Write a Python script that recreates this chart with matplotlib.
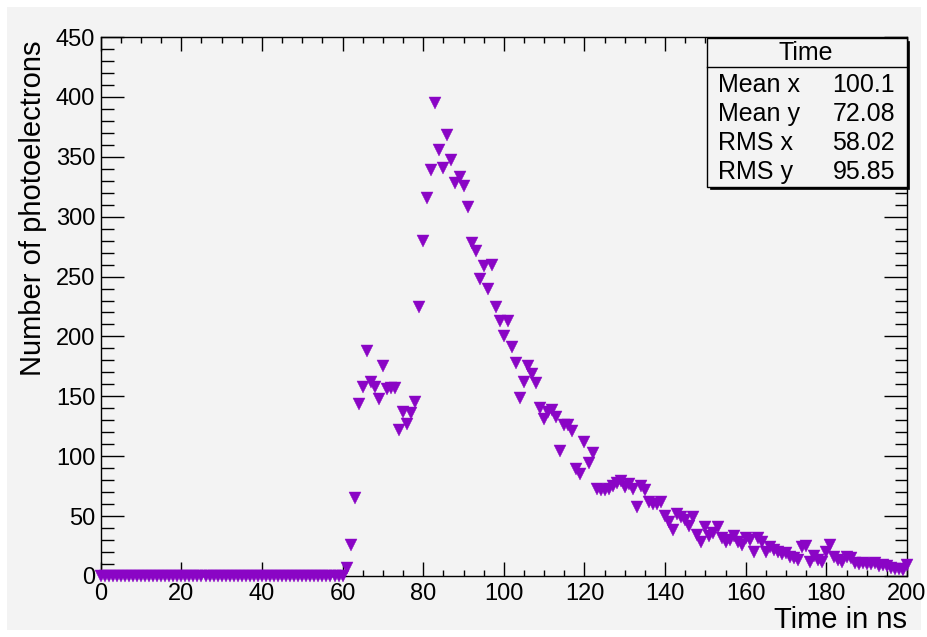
import matplotlib
matplotlib.use("Agg")
import matplotlib.pyplot as plt
from matplotlib.patches import Rectangle
from matplotlib.lines import Line2D
from matplotlib.ticker import MultipleLocator
import numpy as np

# time bins (ns) and photoelectron counts per bin
time_ns = np.arange(0, 201)
counts = [0] * 61 + [
    7, 26, 65, 144, 158, 188, 162, 158, 148, 175,            # 61-70
    156, 157, 157, 122, 137, 127, 136, 145, 225, 280,        # 71-80
    316, 339, 395, 356, 341, 368, 347, 328, 333, 326,        # 81-90
    308, 278, 271, 248, 259, 240, 260, 225, 213, 200,        # 91-100
    213, 191, 178, 149, 162, 175, 169, 161, 140, 131,        # 101-110
    137, 139, 133, 104, 126, 126, 121, 89, 85, 112,          # 111-120
    94, 103, 73, 72, 72, 73, 75, 78, 79, 74,                 # 121-130
    77, 73, 58, 75, 72, 62, 60, 60, 62, 50,                  # 131-140
    45, 38, 52, 49, 47, 42, 49, 34, 28, 41,                  # 141-150
    33, 36, 41, 32, 28, 30, 33, 28, 26, 32,                  # 151-160
    30, 20, 32, 28, 20, 24, 22, 20, 18, 19,                  # 161-170
    16, 15, 13, 24, 25, 12, 17, 13, 12, 20,                  # 171-180
    26, 16, 13, 12, 16, 15, 11, 10, 11, 10,                  # 181-190
    10, 11, 8, 9, 8, 7, 6, 6, 5, 9,                          # 191-200
]

stats_title = "Time"
stats_names = ["Mean x", "Mean y", "RMS x", "RMS y"]
stats_values = ["100.1", "72.08", "58.02", "95.85"]

W, H = 928, 637
bg = "#f3f3f3"
purple = "#8a05c5"
plt.rcParams['font.family'] = ['Liberation Sans', 'DejaVu Sans']

fig = plt.figure(figsize=(W / 100, H / 100), dpi=100, facecolor="white")


def fx(px):
    return px / W


def fy(py):
    return 1 - py / H


# grey canvas inside a thin white margin
fig.patches.append(Rectangle((fx(7), fy(630)), fx(921) - fx(7), fy(7) - fy(630),
                             transform=fig.transFigure, facecolor=bg,
                             edgecolor="none", zorder=-10))

ax = fig.add_axes([fx(100.7), fy(576), fx(907) - fx(100.7), fy(37) - fy(576)])
ax.set_facecolor(bg)
ax.plot(time_ns, counts, linestyle="none", marker="v", markersize=8.6,
        color=purple, markeredgewidth=0.3, clip_on=False, zorder=5)

ax.set_xlim(0, 200)
ax.set_ylim(0, 450)
ax.xaxis.set_major_locator(MultipleLocator(20))
ax.xaxis.set_minor_locator(MultipleLocator(5))
ax.yaxis.set_major_locator(MultipleLocator(50))
ax.yaxis.set_minor_locator(MultipleLocator(10))
ax.tick_params(which="both", direction="in", top=True, right=True,
               labelsize=17, width=1.0, colors="black")
ax.tick_params(axis="x", which="major", length=10, pad=5)
ax.tick_params(axis="x", which="minor", length=4.5)
ax.tick_params(axis="y", which="major", length=16.5, pad=4)
ax.tick_params(axis="y", which="minor", length=9)
for sp in ax.spines.values():
    sp.set_linewidth(1.0)

# axis titles, right/top aligned as in ROOT
fig.text(fx(907), fy(628), "Time in ns", fontsize=21, ha="right", va="baseline")
fig.text(fx(41), fy(40), "Number of photoelectrons", fontsize=21, rotation=90,
         rotation_mode="anchor", ha="right", va="baseline")

# statistics box with shadow
bx0, bx1, by0, by1 = 707.3, 906.7, 38.3, 186.7
fig.patches.append(Rectangle((fx(bx0 + 2.5), fy(by1 + 2.5)), fx(bx1) - fx(bx0),
                             fy(by0) - fy(by1), transform=fig.transFigure,
                             facecolor="black", edgecolor="black", lw=0.5, zorder=10))
fig.patches.append(Rectangle((fx(bx0), fy(by1)), fx(bx1) - fx(bx0),
                             fy(by0) - fy(by1), transform=fig.transFigure,
                             facecolor=bg, edgecolor="black", lw=1.0, zorder=11))
fig.lines.append(Line2D([fx(bx0), fx(bx1)], [fy(66.7), fy(66.7)],
                        transform=fig.transFigure, color="black", lw=1.0, zorder=12))
fig.text(fx(806), fy(60), stats_title, fontsize=18, ha="center", va="baseline", zorder=12)
for i, (name, val) in enumerate(zip(stats_names, stats_values)):
    base = [91.7, 121.0, 150.0, 179.3][i]
    fig.text(fx(718), fy(base), name, fontsize=18, ha="left", va="baseline", zorder=12)
    fig.text(fx(895), fy(base), val, fontsize=18, ha="right", va="baseline", zorder=12)

fig.savefig("out.png", dpi=100, facecolor="white")
